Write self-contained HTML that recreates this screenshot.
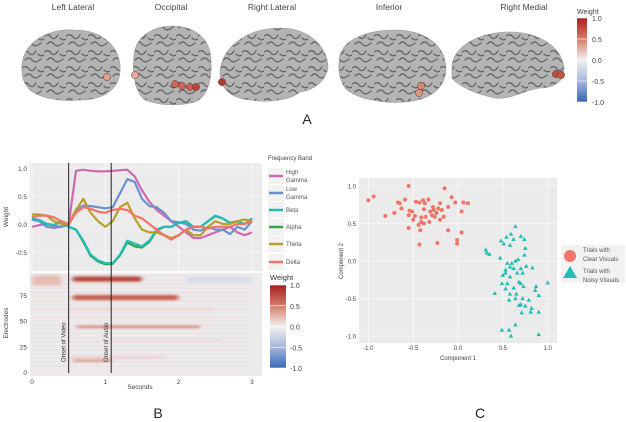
<!DOCTYPE html>
<html><head><meta charset="utf-8">
<style>
html,body{margin:0;padding:0;background:#fff;}
svg{display:block;font-family:"Liberation Sans",sans-serif;}
</style></head>
<body>
<svg id="fig" width="626" height="422" viewBox="0 0 626 422" xmlns="http://www.w3.org/2000/svg">
<defs>
<pattern id="gyri" width="22" height="16" patternUnits="userSpaceOnUse">
<rect width="22" height="16" fill="#b4b4b4"/>
<path d="M0 4 Q4 1 7 5 T14 3 M3 12 Q7 8 10 12 T19 11 M16 6 Q19 9 22 7" stroke="#6a6a6a" stroke-width="1.4" fill="none" stroke-linecap="round"/>
</pattern>
<linearGradient id="cbar" x1="0" y1="0" x2="0" y2="1">
<stop offset="0" stop-color="#a51f1f"/><stop offset="0.25" stop-color="#d47d68"/>
<stop offset="0.5" stop-color="#f3f1f0"/><stop offset="0.75" stop-color="#a5b6dc"/>
<stop offset="1" stop-color="#3867b6"/></linearGradient>
<filter id="blur" x="-10%" y="-50%" width="120%" height="200%"><feGaussianBlur stdDeviation="2.5 1.2"/></filter>
<clipPath id="hmclip"><rect x="30" y="273" width="232" height="103"/></clipPath>
</defs>
<g id="panelA"></g>
<g id="panelB"></g>
<g id="panelC"></g>
</svg>
<script>
// ---- Panel B line chart data ----
const times = [0,0.1,0.2,0.3,0.4,0.5,0.6,0.7,0.8,0.9,1.0,1.1,1.2,1.3,1.4,1.5,1.6,1.7,1.8,1.9,2.0,2.1,2.2,2.3,2.4,2.5,2.6,2.7,2.8,2.9,3.0];
const highGamma = [-0.05,-0.02,0.0,-0.03,-0.05,0.0,0.95,0.97,0.95,0.94,0.94,0.95,0.96,0.97,0.85,0.6,0.4,0.25,0.15,0.05,-0.05,-0.15,-0.25,-0.25,-0.2,-0.15,-0.1,-0.05,-0.15,-0.2,-0.15];
const lowGamma = [0.08,0.05,-0.05,-0.07,-0.05,-0.02,0.25,0.33,0.32,0.3,0.28,0.3,0.55,0.8,0.75,0.45,0.32,0.3,0.2,0.05,0.03,0.0,-0.1,-0.12,-0.05,-0.1,-0.1,-0.18,-0.05,-0.1,0.05];
const beta = [0.1,0.07,0.0,-0.02,0.05,-0.05,-0.1,-0.3,-0.55,-0.65,-0.7,-0.7,-0.55,-0.3,-0.35,-0.4,-0.3,-0.1,-0.05,-0.05,0.02,0.05,-0.05,-0.05,0.05,0.15,0.1,0.02,0.05,0.0,0.1];
const alpha = [0.1,0.07,0.0,-0.02,0.05,-0.05,-0.1,-0.32,-0.57,-0.67,-0.72,-0.71,-0.56,-0.33,-0.4,-0.42,-0.32,-0.12,-0.05,-0.05,0.02,0.05,-0.05,-0.05,0.05,0.14,0.1,0.02,0.05,0.0,0.09];
const theta = [0.17,0.17,0.15,0.05,0.0,0.0,0.25,0.45,0.2,0.05,-0.05,0.05,0.3,0.38,0.1,-0.1,-0.15,-0.15,-0.2,-0.25,-0.2,-0.1,-0.2,-0.2,-0.05,0.05,0.0,0.0,0.05,0.08,0.05];
const delta = [0.12,0.15,0.15,0.12,0.05,0.0,0.2,0.3,0.27,0.22,0.2,0.25,0.27,0.25,0.15,0.1,0.0,-0.1,-0.2,-0.28,-0.2,-0.1,-0.05,-0.05,-0.08,-0.05,-0.05,-0.05,0.0,0.0,0.05];
const bandNames = ["High\nGamma","Low\nGamma","Beta","Alpha","Theta","Delta"];
const weightTicks = [1.0,0.5,0.0,-0.5];
const secondTicks = [0,1,2,3];
const electrodeTicks = [0,25,50,75];
// heatmap bands: electrode low, electrode high, t start, t end, weight
const hmElecLo = [88,70,43,10,14,84,87,60,30];
const hmElecHi = [93,75,45,12,15,94,92,62,32];
const hmStart = [0.55,0.55,0.6,0.55,0.5,0.0,2.1,0.5,1.0];
const hmEnd = [1.5,2.0,2.3,1.1,1.8,0.4,3.0,2.5,2.6];
const hmWeight = [0.9,0.75,0.6,0.5,0.3,0.25,-0.2,0.15,0.12];
// ---- Panel C scatter data ----
const clearX = [-1.0,-0.94,-0.81,-0.71,-0.55,-0.59,-0.67,-0.65,-0.63,-0.54,-0.55,-0.5,-0.55,-0.44,-0.42,-0.43,-0.47,-0.43,-0.39,-0.37,-0.33,-0.38,-0.36,-0.38,-0.32,-0.31,-0.28,-0.27,-0.24,-0.22,-0.2,-0.2,-0.16,-0.15,-0.11,-0.11,-0.07,-0.03,-0.23,-0.01,-0.01,0.04,0.04,0.06,0.11,-0.41,-0.51,-0.29,-0.26,-0.18,-0.41,-0.48];
const clearY = [0.81,0.86,0.6,0.64,1.0,0.82,0.78,0.77,0.7,0.67,0.61,0.55,0.44,0.48,0.41,0.22,0.79,0.78,0.81,0.77,0.82,0.69,0.59,0.5,0.52,0.66,0.72,0.68,0.64,0.7,0.77,0.55,0.59,0.97,0.41,0.72,0.85,0.78,0.24,0.23,0.28,0.38,0.66,0.78,0.77,0.58,0.66,0.61,0.59,0.68,0.52,0.6];
const noisyX = [0.64,0.59,0.54,0.62,0.7,0.74,0.48,0.51,0.58,0.75,0.74,0.31,0.32,0.35,0.47,0.67,0.64,0.55,0.58,0.62,0.7,0.76,0.83,0.5,0.53,0.58,0.66,0.72,0.49,0.55,0.68,0.7,0.73,0.53,0.62,0.87,1.0,0.86,0.41,0.58,0.65,0.9,0.64,0.57,0.72,0.79,0.68,0.7,0.75,0.82,0.81,0.71,0.9,0.64,0.49,0.57,0.59,0.9,0.53,0.6];
const noisyY = [0.46,0.36,0.32,0.29,0.33,0.29,0.27,0.23,0.21,0.17,0.08,0.15,0.11,0.09,0.04,0.02,0.0,-0.03,-0.08,-0.1,-0.1,-0.07,-0.09,-0.19,-0.16,-0.21,-0.16,-0.16,-0.3,-0.3,-0.28,-0.3,-0.34,-0.37,-0.36,-0.34,-0.29,-0.39,-0.43,-0.44,-0.44,-0.46,-0.5,-0.52,-0.5,-0.52,-0.59,-0.58,-0.6,-0.63,-0.68,-0.69,-0.68,-0.85,-0.92,-0.92,-1.0,-0.98,-0.12,-0.03];
const scatterTicks = [-1.0,-0.5,0.0,0.5,1.0];
// ---- Panel A data ----
const viewNames = ["Left Lateral","Occipital","Right Lateral","Inferior","Right Medial"];
const elecX = [107,135,175,182,190,196,222,421,419,556,561];
const elecY = [77,75,84,86,87,87,82,86,93,74,75];
const elecW = [0.35,0.3,0.6,0.6,0.65,0.8,0.85,0.45,0.4,0.75,0.7];

const NS="http://www.w3.org/2000/svg";
function mk(tag,attrs,parent){const e=document.createElementNS(NS,tag);for(const k in attrs)e.setAttribute(k,attrs[k]);parent.appendChild(e);return e;}
function txt(s,x,y,size,parent,anchor,fill){const t=mk('text',{x:x,y:y,'font-size':size,'text-anchor':anchor||'start',fill:fill||'#444'},parent);t.textContent=s;return t;}
function wColor(w){
  const stops=[[1,[165,31,31]],[0.5,[212,125,104]],[0,[243,241,240]],[-0.5,[165,182,220]],[-1,[56,103,182]]];
  for(let i=0;i<stops.length-1;i++){const a=stops[i],b=stops[i+1];if(w<=a[0]&&w>=b[0]){const f=(a[0]-w)/(a[0]-b[0]);const c=a[1].map((v,j)=>Math.round(v+(b[1][j]-v)*f));return `rgb(${c})`;}}
  return w>0?'rgb(165,31,31)':'rgb(56,103,182)';
}
function colorbar(g,x,y,w,h,labX,name){
  const r=mk('rect',{x:x,y:y,width:w,height:h,fill:'url(#cbar)'},g);
  
  
  [1,0.5,0,-0.5,-1].forEach(v=>{const yy=y+(1-v)/2*h;txt(v.toFixed(1),labX,yy+3,7,g);mk('line',{x1:x,x2:x+w,y1:yy,y2:yy,stroke:'#fff','stroke-width':0.6},g);});
}

// ===== Panel A =====
const A=document.getElementById('panelA');
const brainPaths=[
 "M22 70 C20 45 45 28 75 30 C105 30 122 50 120 72 C118 92 100 100 80 100 C60 102 40 98 30 90 C24 84 22 78 22 70Z",
 "M134 55 C136 35 155 26 172 26 C192 26 210 36 211 60 C212 80 208 96 195 102 C180 106 160 106 145 100 C135 92 132 75 134 55Z",
 "M220 72 C222 45 250 28 280 28 C310 28 328 48 328 68 C326 80 315 90 300 92 C290 100 270 103 250 100 C230 98 220 88 220 72Z",
 "M340 55 C345 38 370 30 395 30 C425 30 445 45 446 68 C446 88 430 100 405 102 C380 104 355 98 345 88 C338 78 338 65 340 55Z",
 "M452 65 C455 45 480 32 510 32 C540 32 562 48 564 68 C565 80 555 88 540 88 C525 90 510 100 495 98 C480 95 460 88 452 78Z"
];
const brainNames=['brain-left-lateral','brain-occipital','brain-right-lateral','brain-inferior','brain-right-medial'];
const titleX=[73,171,272,389,524];
brainPaths.forEach((d,i)=>{
  const p=mk('path',{d:d,fill:'url(#gyri)',stroke:'#9a9a9a','stroke-width':0.6},A);
  
  
  const t=txt(viewNames[i],titleX[i],10,8.5,A,'middle','#444');
  
  
});
elecX.forEach((x,i)=>{
  const c=mk('circle',{cx:x,cy:elecY[i],r:3.6,fill:wColor(elecW[i]),stroke:'#6a2a20','stroke-width':0.5},A);
  
  
});
txt('Weight',577,14,7,A);
colorbar(A,577,18,10,84,592,'weight-colorbar-a');
const la=txt('A',307,124,14,A,'middle','#222');



// ===== Panel B =====
const B=document.getElementById('panelB');
const px0=30,px1=262;
const xs=t=>32+t*73.33;
const ly=v=>224-v*56;
const bg1=mk('rect',{x:px0,y:163,width:px1-px0,height:108,fill:'#ebebeb'},B);


weightTicks.forEach(v=>{mk('line',{x1:px0,x2:px1,y1:ly(v),y2:ly(v),stroke:'#fff','stroke-width':0.6},B);txt(v.toFixed(1),27,ly(v)+3,6.5,B,'end');});
secondTicks.forEach(s=>mk('line',{x1:xs(s),x2:xs(s),y1:163,y2:271,stroke:'#fff','stroke-width':0.6},B));
const cols=['#cf6ab2','#6e8fcf','#22bdb5','#2ca84a','#b7a02a','#f07468'];
const series=[highGamma,lowGamma,alpha,beta,theta,delta];
const seriesCols=[cols[0],cols[1],cols[3],cols[2],cols[4],cols[5]];
const seriesNames=['line-high-gamma','line-low-gamma','line-alpha','line-beta','line-theta','line-delta'];
series.forEach((s,i)=>{
  const d=s.map((v,j)=>(j?'L':'M')+xs(times[j]).toFixed(1)+' '+ly(v).toFixed(1)).join(' ');
  const p=mk('path',{d:d,fill:'none',stroke:seriesCols[i],'stroke-width':2.2,'stroke-linejoin':'round'},B);
  
  
});
const wl=txt('Weight',8,217,6.5,B,'middle');wl.setAttribute('transform','rotate(-90 8 217)');
// heatmap
const hy=e=>372-e*1.027;
const bg2=mk('rect',{x:px0,y:273,width:px1-px0,height:103,fill:'#ebebeb'},B);


const hm=mk('g',{'clip-path':'url(#hmclip)'},B);
mk('rect',{x:xs(0),y:hy(95),width:xs(3)-xs(0),height:hy(0)-hy(95),fill:'#eeeaea'},hm);
for(let e=0;e<95;e+=4){mk('rect',{x:xs(0),y:hy(e+2),width:xs(3)-xs(0),height:1,fill:(e%8?'#e8d6d2':'#dde1ee'),opacity:0.5},hm);}
const hb=mk('g',{filter:'url(#blur)'},hm);
hmElecLo.forEach((lo,i)=>{
  const r=mk('rect',{x:xs(hmStart[i]),y:hy(hmElecHi[i]),width:xs(hmEnd[i])-xs(hmStart[i]),height:hy(lo)-hy(hmElecHi[i]),fill:wColor(hmWeight[i]*0.9),rx:3},hb);
  
  
});
electrodeTicks.forEach(v=>txt(String(v),27,hy(v)+3,6.5,B,'end'));
secondTicks.forEach(s=>txt(String(s),xs(s),384,6.5,B,'middle'));
txt('Seconds',140,389,6.5,B,'middle');
const el=txt('Electrodes',8,323,6.5,B,'middle');el.setAttribute('transform','rotate(-90 8 323)');
[[0.5,'Onset of Video'],[1.08,'Onset of Audio']].forEach(([t,l])=>{
  const ln=mk('line',{x1:xs(t),x2:xs(t),y1:163,y2:373,stroke:'#222','stroke-width':1},B);
  
  
  const tt=txt(l,xs(t)-3,362,6,B,'start','#333');tt.setAttribute('transform',`rotate(-90 ${xs(t)-3} 362)`);
});
// legend
txt('Frequency Band',268,160,6,B);
const legY=[176,193,210,227,244,262];
bandNames.forEach((n,i)=>{
  mk('rect',{x:268,y:legY[i]-8,width:16,height:16,fill:'#f2f2f2'},B);
  const k=mk('line',{x1:269,x2:283,y1:legY[i],y2:legY[i],stroke:cols[i],'stroke-width':2.5},B);
  
  
  const parts=n.split('\n');
  parts.forEach((p,j)=>txt(p,286,legY[i]+(parts.length>1?-2+j*8:2),6,B,'start','#555'));
});
txt('Weight',270,280,7.5,B,'start','#333');
colorbar(B,270,285,16,83,290,'weight-colorbar-b');
const lb=txt('B',158,418,14,B,'middle','#222');



// ===== Panel C =====
const C=document.getElementById('panelC');
const cx=v=>458+v*89.7;
const cy=v=>261-v*75;
const bg3=mk('rect',{x:359,y:178,width:198,height:165,fill:'#ebebeb'},C);


scatterTicks.forEach(v=>{
  mk('line',{x1:359,x2:557,y1:cy(v),y2:cy(v),stroke:'#fff','stroke-width':0.6},C);
  mk('line',{x1:cx(v),x2:cx(v),y1:178,y2:343,stroke:'#fff','stroke-width':0.6},C);
  txt(v.toFixed(1),356,cy(v)+2.5,6,C,'end');
  txt(v.toFixed(1),cx(v),350,6,C,'middle');
});
txt('Component 1',458,360,6,C,'middle');
const c2=txt('Component 2',343,261,6,C,'middle');c2.setAttribute('transform','rotate(-90 343 261)');
clearX.forEach((x,i)=>{
  const c=mk('circle',{cx:cx(x),cy:cy(clearY[i]),r:2,fill:'#f07468'},C);
  
  
});
noisyX.forEach((x,i)=>{
  const X=cx(x),Y=cy(noisyY[i]);
  const p=mk('path',{d:`M${X} ${Y-2.4} L${X+2.3} ${Y+1.6} L${X-2.3} ${Y+1.6}Z`,fill:'#22bdb5'},C);
  
  
});
mk('rect',{x:561,y:245,width:64,height:38,fill:'#f2f2f2'},C);
const lc=mk('circle',{cx:570,cy:256,r:6,fill:'#f07468'},C);


const lt=mk('path',{d:'M570 266 L577 278 L563 278Z',fill:'#22bdb5'},C);


txt('Trials with',583,252,6,C,'start','#555');txt('Clear  Visuals',583,261,6,C,'start','#555');
txt('Trials with',583,273,6,C,'start','#555');txt('Noisy Visuals',583,282,6,C,'start','#555');
const lcC=txt('C',480,418,14,C,'middle','#222');


</script>
</body></html>
